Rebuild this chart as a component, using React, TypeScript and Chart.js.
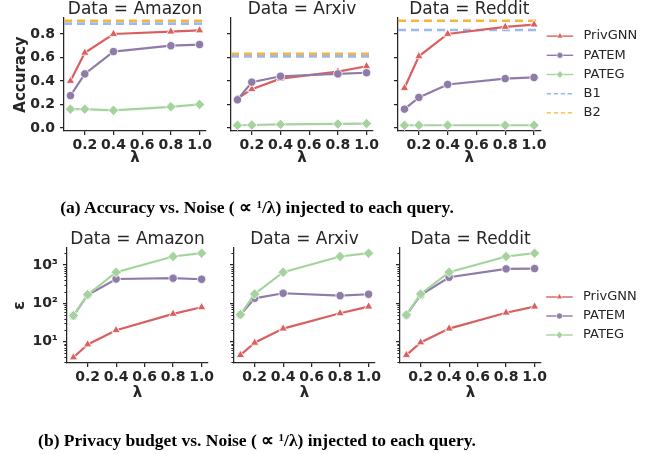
import React, { useEffect, useRef } from 'react';
import { Chart, registerables } from 'chart.js';
Chart.register(...registerables);

// ---------- data ----------
const lambdas = [0.1, 0.2, 0.4, 0.8, 1.0];
const xTickValues = [0.2, 0.4, 0.6, 0.8, 1.0];
const accTickValues = [0.0, 0.2, 0.4, 0.6, 0.8];
const epsTickValues = [10, 100, 1000];
const epsTickLabels = ['10¹', '10²', '10³'];
const methodNames = ['PrivGNN', 'PATEM', 'PATEG'];
const baselineNames = ['B1', 'B2'];
const dataNames = ['Amazon', 'Arxiv', 'Reddit'];

const accAmazonPrivGNN = [0.4, 0.64, 0.8, 0.82, 0.83];
const accAmazonPATEM = [0.275, 0.46, 0.65, 0.7, 0.71];
const accAmazonPATEG = [0.16, 0.16, 0.15, 0.18, 0.2];
const accArxivPrivGNN = [0.25, 0.33, 0.42, 0.48, 0.525];
const accArxivPATEM = [0.24, 0.39, 0.44, 0.46, 0.47];
const accArxivPATEG = [0.023, 0.025, 0.03, 0.034, 0.037];
const accRedditPrivGNN = [0.34, 0.61, 0.8, 0.86, 0.88];
const accRedditPATEM = [0.16, 0.26, 0.37, 0.42, 0.43];
const accRedditPATEG = [0.023, 0.023, 0.023, 0.023, 0.023];
const baselineB1 = [0.888, 0.609, 0.834];
const baselineB2 = [0.913, 0.632, 0.913];

const epsAmazonPrivGNN = [3.9, 8.5, 20, 53, 79];
const epsAmazonPATEM = [47, 165, 430, 450, 423];
const epsAmazonPATEG = [48, 168, 644, 1650, 2015];
const epsArxivPrivGNN = [4.5, 9.4, 22, 55, 82];
const epsArxivPATEM = [50, 135, 183, 158, 172];
const epsArxivPATEG = [51, 175, 644, 1650, 2015];
const epsRedditPrivGNN = [4.5, 9.6, 22, 57, 82];
const epsRedditPATEM = [49, 165, 476, 787, 802];
const epsRedditPATEG = [50, 175, 644, 1650, 2015];

// ---------- style ----------
const FONT = "'DejaVu Sans', sans-serif";
const TXT = '#262626';
const AX = '#262626';
const methodColors = ['#d9605f', '#8e7ba8', '#a5d39d'];
const baselineColors = ['#9db8ef', '#f5b43a'];
const methodMarkers = ['triangle', 'circle', 'rectRot'];
const markerRadius = [4.8, 4.2, 5.2];

const W = 665;
const H = 454;

function drawMarker(ctx: CanvasRenderingContext2D, style: string, x: number, y: number, r: number, color: string) {
  ctx.beginPath();
  if (style === 'circle') {
    ctx.arc(x, y, r, 0, Math.PI * 2);
  } else if (style === 'triangle') {
    ctx.moveTo(x, y - r);
    ctx.lineTo(x + r * 0.866, y + r * 0.5);
    ctx.lineTo(x - r * 0.866, y + r * 0.5);
  } else {
    ctx.moveTo(x - r, y);
    ctx.lineTo(x, y - r);
    ctx.lineTo(x + r, y);
    ctx.lineTo(x, y + r);
  }
  ctx.closePath();
  ctx.fillStyle = color;
  ctx.fill();
  ctx.strokeStyle = '#fff';
  ctx.lineWidth = 0.6;
  ctx.stroke();
}

function makeBaselinePlugin(values: number[], colors: string[]) {
  return {
    id: 'baselines',
    beforeDatasetsDraw(chart: any) {
      const { ctx, chartArea } = chart;
      const y = chart.scales.y;
      ctx.save();
      values.forEach((v, i) => {
        const py = y.getPixelForValue(v);
        ctx.strokeStyle = colors[i];
        ctx.lineWidth = 2.6;
        ctx.setLineDash([8, 5]);
        ctx.beginPath();
        ctx.moveTo(chartArea.left, py);
        ctx.lineTo(chartArea.right, py);
        ctx.stroke();
      });
      ctx.restore();
    },
  };
}

function makeMinorTickPlugin(values: number[]) {
  return {
    id: 'minorTicks',
    afterDraw(chart: any) {
      const { ctx, chartArea } = chart;
      const y = chart.scales.y;
      ctx.save();
      ctx.strokeStyle = AX;
      ctx.lineWidth = 1;
      values.forEach((v) => {
        if (v < y.min || v > y.max) return;
        const py = Math.round(y.getPixelForValue(v)) + 0.5;
        ctx.beginPath();
        ctx.moveTo(chartArea.left - 2.6, py);
        ctx.lineTo(chartArea.left, py);
        ctx.stroke();
      });
      ctx.restore();
    },
  };
}

type LegendItem = { label: string; color: string; marker?: string; dashed?: boolean };

function makeLegendPlugin(items: LegendItem[], dy: number, spacing: number, dx: number, tx: number) {
  return {
    id: 'sideLegend',
    afterDraw(chart: any) {
      const { ctx, chartArea } = chart;
      const n = items.length;
      const cy = (chartArea.top + chartArea.bottom) / 2 + dy;
      ctx.save();
      items.forEach((it, i) => {
        const y = cy + (i - (n - 1) / 2) * spacing;
        const x0 = chartArea.right + dx;
        ctx.strokeStyle = it.color;
        ctx.lineWidth = 1.4;
        ctx.setLineDash(it.dashed ? [4.4, 2.6] : []);
        ctx.beginPath();
        ctx.moveTo(x0, y);
        ctx.lineTo(x0 + 26.5, y);
        ctx.stroke();
        ctx.setLineDash([]);
        if (it.marker) {
          const r = it.marker === 'circle' ? 3 : it.marker === 'triangle' ? 3.6 : 3.7;
          drawMarker(ctx, it.marker, x0 + 13.25, y, r, it.color);
        }
        ctx.fillStyle = TXT;
        ctx.font = `13px ${FONT}`;
        ctx.textBaseline = 'middle';
        ctx.textAlign = 'left';
        ctx.fillText(it.label, chartArea.right + tx, y);
      });
      ctx.restore();
    },
  };
}

const minorEpsTicks: number[] = [];
[1, 10, 100, 1000].forEach((d) => {
  for (let k = 2; k <= 9; k++) minorEpsTicks.push(k * d);
});

type PanelSpec = {
  kind: 'acc' | 'eps';
  name: string;
  series: number[][];
  baselines?: number[];
  left: number;
  right: number;
  first: boolean;
  legend: boolean;
};

const TOP = { top: 18, xh: 36, padB: 287, padL: 12, dy: 0 };
const BOT = { top: 248, xh: 39, padB: 52, padL: 10.5, dy: 10.5 };

const panels: PanelSpec[] = [
  { kind: 'acc', name: dataNames[0], series: [accAmazonPrivGNN, accAmazonPATEM, accAmazonPATEG], baselines: [baselineB1[0], baselineB2[0]], left: 64, right: 206, first: true, legend: false },
  { kind: 'acc', name: dataNames[1], series: [accArxivPrivGNN, accArxivPATEM, accArxivPATEG], baselines: [baselineB1[1], baselineB2[1]], left: 231, right: 373, first: false, legend: false },
  { kind: 'acc', name: dataNames[2], series: [accRedditPrivGNN, accRedditPATEM, accRedditPATEG], baselines: [baselineB1[2], baselineB2[2]], left: 398, right: 540.5, first: false, legend: true },
  { kind: 'eps', name: dataNames[0], series: [epsAmazonPrivGNN, epsAmazonPATEM, epsAmazonPATEG], left: 67, right: 208, first: true, legend: false },
  { kind: 'eps', name: dataNames[1], series: [epsArxivPrivGNN, epsArxivPATEM, epsArxivPATEG], left: 234, right: 375, first: false, legend: false },
  { kind: 'eps', name: dataNames[2], series: [epsRedditPrivGNN, epsRedditPATEM, epsRedditPATEG], left: 400, right: 541, first: false, legend: true },
];

function buildConfig(p: PanelSpec): any {
  const isAcc = p.kind === 'acc';
  const row = isAcc ? TOP : BOT;
  const padL = p.first ? row.padL : p.left - 10;
  const yw = p.left - padL;
  const padT = row.top - 18 + 1;
  const padR = W - p.right;

  const datasets = methodNames.map((m, i) => ({
    label: m,
    data: lambdas.map((x, j) => ({ x, y: p.series[i][j] })),
    borderColor: methodColors[i],
    backgroundColor: methodColors[i],
    pointBackgroundColor: methodColors[i],
    pointBorderColor: '#ffffff',
    pointBorderWidth: 0.8,
    pointStyle: methodMarkers[i],
    pointRadius: markerRadius[i],
    borderWidth: 2.2,
    order: 3 - i,
    clip: false,
    tension: 0,
  }));

  const gridOpts = { drawOnChartArea: false, drawTicks: true, tickLength: 4, color: AX, lineWidth: 1.25, tickWidth: 1.25 };
  const borderOpts = { display: true, color: AX, width: 1.25 };
  const tickFont = { family: FONT, size: 14, weight: 'bold' };

  const plugins: any[] = [];
  if (isAcc && p.baselines) plugins.push(makeBaselinePlugin(p.baselines, baselineColors));
  if (!isAcc) plugins.push(makeMinorTickPlugin(minorEpsTicks));
  if (p.legend) {
    const items: LegendItem[] = methodNames.map((m, i) => ({ label: m, color: methodColors[i], marker: methodMarkers[i] }));
    if (isAcc) baselineNames.forEach((b, i) => items.push({ label: b, color: baselineColors[i], dashed: true }));
    plugins.push(makeLegendPlugin(items, row.dy, isAcc ? 19.2 : 19, isAcc ? 6.2 : 5.2, isAcc ? 43 : 42));
  }

  const yScale: any = isAcc
    ? {
        type: 'linear',
        min: -0.026,
        max: 0.936,
        bounds: 'data',
        afterBuildTicks: (s: any) => {
          s.ticks = accTickValues.map((v) => ({ value: v }));
        },
        ticks: { display: p.first, callback: (v: any) => Number(v).toFixed(1), font: tickFont, color: TXT, padding: 5, autoSkip: false },
      }
    : {
        type: 'logarithmic',
        min: 2.8,
        max: 2750,
        afterBuildTicks: (s: any) => {
          s.ticks = epsTickValues.map((v) => ({ value: v, major: true }));
        },
        ticks: {
          display: p.first,
          callback: (v: any) => {
            const k = epsTickValues.indexOf(Number(v));
            return k >= 0 ? epsTickLabels[k] : '';
          },
          font: tickFont,
          color: TXT,
          padding: 5,
          autoSkip: false,
        },
      };
  Object.assign(yScale, {
    afterFit: (s: any) => {
      s.width = yw;
    },
    grid: gridOpts,
    border: borderOpts,
    title: {
      display: p.first,
      text: isAcc ? 'Accuracy' : 'ε',
      font: { family: FONT, size: isAcc ? 15 : 16, weight: 'bold', lineHeight: 1.2 },
      color: TXT,
      padding: { top: 0, bottom: 0 },
    },
  });

  return {
    type: 'line',
    data: { datasets },
    options: {
      responsive: false,
      animation: false,
      devicePixelRatio: 1,
      events: [],
      layout: { padding: { left: padL, top: padT, right: padR, bottom: row.padB } },
      plugins: {
        legend: { display: false },
        tooltip: { enabled: false },
        title: {
          display: true,
          text: `Data = ${p.name}`,
          fullSize: false,
          font: { family: FONT, size: 17, weight: 'normal', lineHeight: 1 },
          color: TXT,
          padding: { top: 0, bottom: 0 },
        },
      },
      scales: {
        x: {
          type: 'linear',
          min: 0.055,
          max: 1.045,
          bounds: 'data',
          afterBuildTicks: (s: any) => {
            s.ticks = xTickValues.map((v) => ({ value: v }));
          },
          afterFit: (s: any) => {
            s.height = row.xh;
          },
          ticks: { callback: (v: any) => Number(v).toFixed(1), font: tickFont, color: TXT, padding: 2, autoSkip: false, maxRotation: 0, minRotation: 0 },
          grid: gridOpts,
          border: borderOpts,
          title: {
            display: true,
            text: 'λ',
            font: { family: FONT, size: 15, weight: 'bold', lineHeight: 1.2 },
            color: TXT,
            padding: { top: 0, bottom: 0 },
          },
        },
        y: yScale,
      },
    },
    plugins,
  };
}

function Panel({ spec }: { spec: PanelSpec }) {
  const ref = useRef<HTMLCanvasElement>(null);
  useEffect(() => {
    const chart = new Chart(ref.current as HTMLCanvasElement, buildConfig(spec));
    return () => chart.destroy();
  }, [spec]);
  return (
    <canvas
      ref={ref}
      width={W}
      height={H}
      style={{ position: 'absolute', left: 0, top: 0, width: W, height: H }}
    />
  );
}

const captionStyle: React.CSSProperties = {
  position: 'absolute',
  left: 0,
  width: 514,
  textAlign: 'center',
  fontFamily: "'Liberation Serif', serif",
  fontWeight: 'bold',
  fontSize: 17.5,
  lineHeight: '22px',
  color: '#000',
  whiteSpace: 'nowrap',
};

const supStyle: React.CSSProperties = { fontSize: 11, position: 'relative', top: -5 };

export default function App() {
  return (
    <div style={{ position: 'absolute', left: 0, top: 0, width: W, height: H, background: '#fff', overflow: 'hidden' }}>
      {panels.map((p, i) => (
        <Panel key={i} spec={p} />
      ))}
      <div style={{ ...captionStyle, top: 196 }}>
        (a) Accuracy vs. Noise ( ∝ <span style={supStyle}>1</span>/λ) injected to each query.
      </div>
      <div style={{ ...captionStyle, top: 429 }}>
        (b) Privacy budget vs. Noise ( ∝ <span style={supStyle}>1</span>/λ) injected to each query.
      </div>
    </div>
  );
}
